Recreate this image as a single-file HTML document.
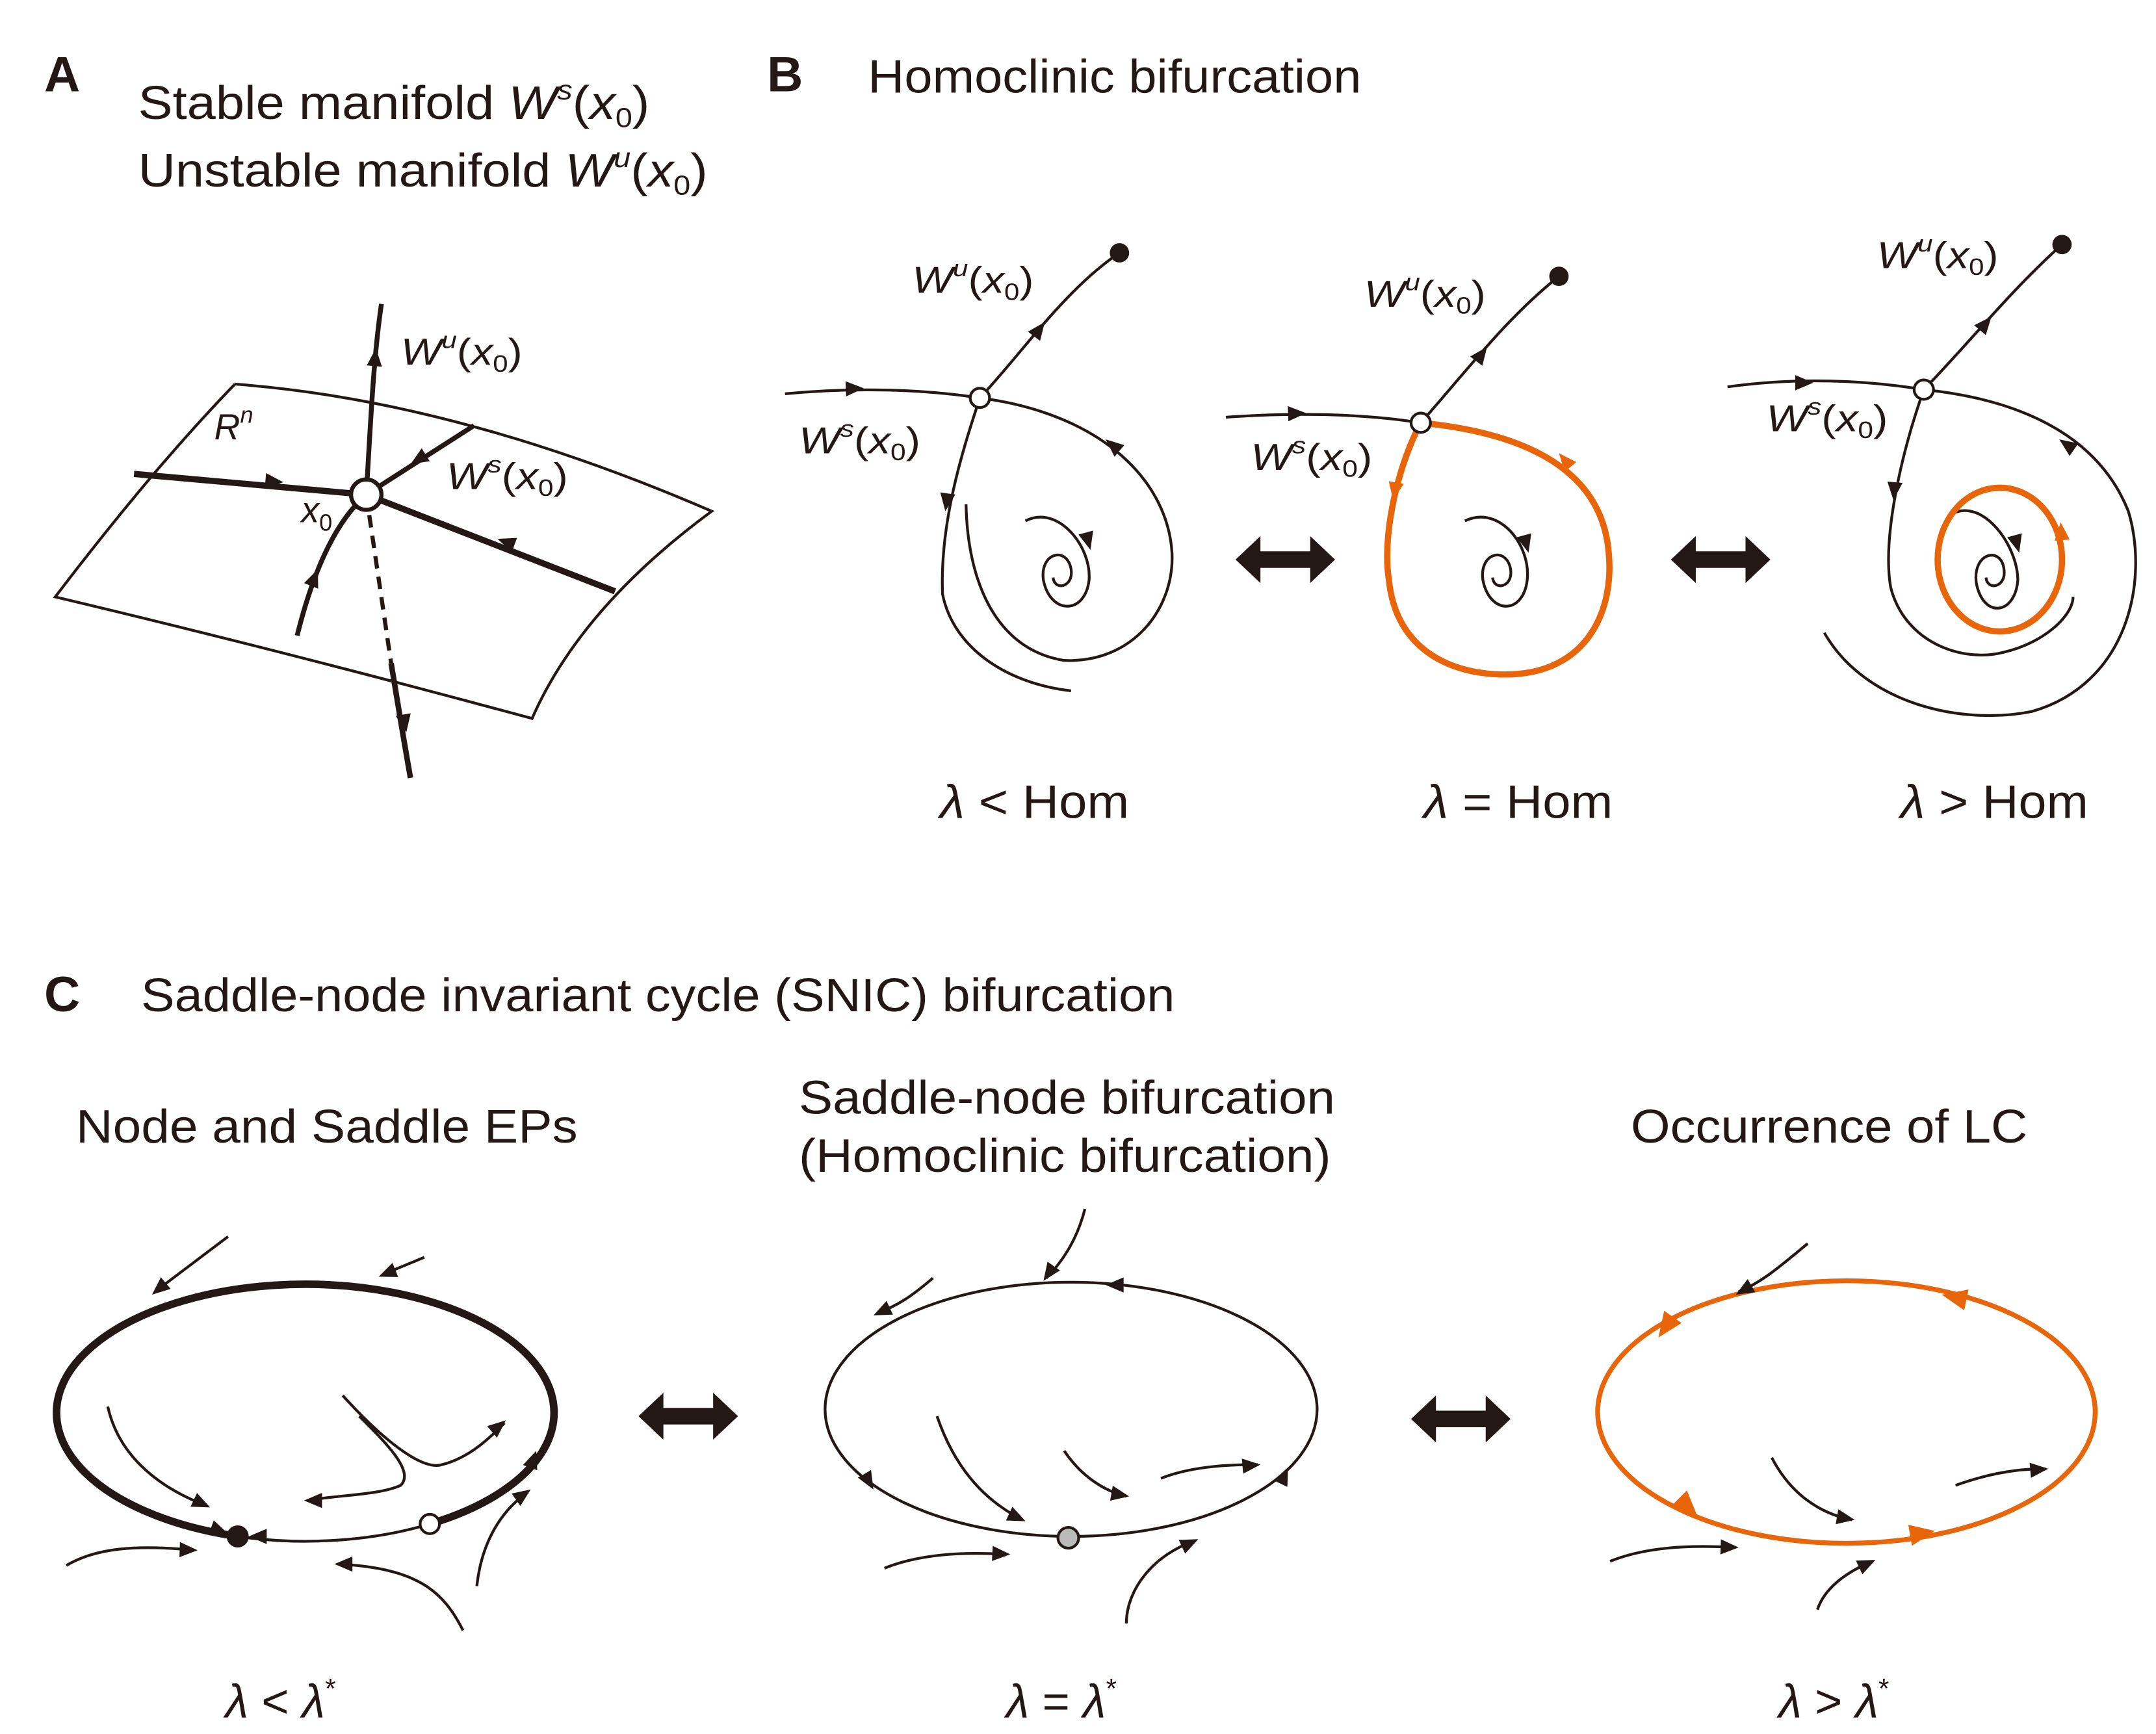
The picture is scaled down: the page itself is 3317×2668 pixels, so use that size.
<!DOCTYPE html>
<html><head><meta charset="utf-8"><style>html,body{margin:0;padding:0;background:#fff}svg{display:block}</style></head>
<body>
<svg width="3317" height="2668" viewBox="0 0 1560 1255" preserveAspectRatio="none" xmlns="http://www.w3.org/2000/svg" font-family="Liberation Sans, Arial, sans-serif">
<defs>
<path id="ah" d="M0,0 L-13,-5.5 L-13,5.5Z"/>
<polygon id="da" points="-36,0 -18,-17 -18,-6 18,-6 18,-17 36,0 18,17 18,6 -18,6 -18,17" fill="#231815"/>
</defs>
<g fill="#231815">
<text x="32" y="66" font-size="36" font-weight="bold">A</text>
<text x="100" y="86" font-size="34" textLength="370" lengthAdjust="spacingAndGlyphs">Stable manifold <tspan font-style="italic">W</tspan><tspan font-size="20" dy="-14" font-style="italic">s</tspan><tspan dy="14">(</tspan><tspan font-style="italic">x</tspan><tspan font-size="20" dy="6">0</tspan><tspan dy="-6">)</tspan></text>
<text x="100" y="135" font-size="34" textLength="412" lengthAdjust="spacingAndGlyphs">Unstable manifold <tspan font-style="italic">W</tspan><tspan font-size="20" dy="-14" font-style="italic">u</tspan><tspan dy="14">(</tspan><tspan font-style="italic">x</tspan><tspan font-size="20" dy="6">0</tspan><tspan dy="-6">)</tspan></text>
<text x="555" y="66" font-size="36" font-weight="bold">B</text>
<text x="628" y="67" font-size="34" textLength="357" lengthAdjust="spacingAndGlyphs">Homoclinic bifurcation</text>
<text x="32" y="732" font-size="36" font-weight="bold">C</text>
<text x="102" y="732" font-size="34" textLength="748" lengthAdjust="spacingAndGlyphs">Saddle-node invariant cycle (SNIC) bifurcation</text>
<text x="55" y="827" font-size="34" textLength="363" lengthAdjust="spacingAndGlyphs">Node and Saddle EPs</text>
<text x="578" y="806" font-size="34" textLength="388" lengthAdjust="spacingAndGlyphs">Saddle-node bifurcation</text>
<text x="578" y="848" font-size="34" textLength="385" lengthAdjust="spacingAndGlyphs">(Homoclinic bifurcation)</text>
<text x="1180" y="827" font-size="34" textLength="287" lengthAdjust="spacingAndGlyphs">Occurrence of LC</text>
<text x="680" y="592" font-size="34" textLength="137" lengthAdjust="spacingAndGlyphs"><tspan font-style="italic">λ</tspan> &lt; Hom</text>
<text x="1030" y="592" font-size="34" textLength="137" lengthAdjust="spacingAndGlyphs"><tspan font-style="italic">λ</tspan> = Hom</text>
<text x="1375" y="592" font-size="34" textLength="136" lengthAdjust="spacingAndGlyphs"><tspan font-style="italic">λ</tspan> &gt; Hom</text>
<text x="163" y="1243" font-size="34"><tspan font-style="italic">λ</tspan> &lt; <tspan font-style="italic">λ</tspan><tspan font-size="20" dy="-14">*</tspan></text>
<text x="728" y="1243" font-size="34"><tspan font-style="italic">λ</tspan> = <tspan font-style="italic">λ</tspan><tspan font-size="20" dy="-14">*</tspan></text>
<text x="1287" y="1243" font-size="34"><tspan font-style="italic">λ</tspan> &gt; <tspan font-style="italic">λ</tspan><tspan font-size="20" dy="-14">*</tspan></text>
<!-- A labels -->
<text x="155" y="318" font-size="26" font-style="italic">R<tspan font-size="17" dy="-12">n</tspan></text>
<text x="218" y="378" font-size="26" font-style="italic">x<tspan font-size="17" dy="6" font-style="normal">0</tspan></text>
<text x="290" y="264" font-size="27" textLength="88" lengthAdjust="spacingAndGlyphs"><tspan font-style="italic">W</tspan><tspan font-size="17" dy="-12" font-style="italic">u</tspan><tspan dy="12">(</tspan><tspan font-style="italic">x</tspan><tspan font-size="17" dy="5">0</tspan><tspan dy="-5">)</tspan></text>
<text x="323" y="354" font-size="27" textLength="88" lengthAdjust="spacingAndGlyphs"><tspan font-style="italic">W</tspan><tspan font-size="17" dy="-12" font-style="italic">s</tspan><tspan dy="12">(</tspan><tspan font-style="italic">x</tspan><tspan font-size="17" dy="5">0</tspan><tspan dy="-5">)</tspan></text>
<!-- B labels -->
<text x="660" y="212" font-size="27" textLength="88" lengthAdjust="spacingAndGlyphs"><tspan font-style="italic">W</tspan><tspan font-size="17" dy="-12" font-style="italic">u</tspan><tspan dy="12">(</tspan><tspan font-style="italic">x</tspan><tspan font-size="17" dy="5">0</tspan><tspan dy="-5">)</tspan></text>
<text x="578" y="328" font-size="27" textLength="88" lengthAdjust="spacingAndGlyphs"><tspan font-style="italic">W</tspan><tspan font-size="17" dy="-12" font-style="italic">s</tspan><tspan dy="12">(</tspan><tspan font-style="italic">x</tspan><tspan font-size="17" dy="5">0</tspan><tspan dy="-5">)</tspan></text>
<text x="987" y="222" font-size="27" textLength="88" lengthAdjust="spacingAndGlyphs"><tspan font-style="italic">W</tspan><tspan font-size="17" dy="-12" font-style="italic">u</tspan><tspan dy="12">(</tspan><tspan font-style="italic">x</tspan><tspan font-size="17" dy="5">0</tspan><tspan dy="-5">)</tspan></text>
<text x="905" y="340" font-size="27" textLength="88" lengthAdjust="spacingAndGlyphs"><tspan font-style="italic">W</tspan><tspan font-size="17" dy="-12" font-style="italic">s</tspan><tspan dy="12">(</tspan><tspan font-style="italic">x</tspan><tspan font-size="17" dy="5">0</tspan><tspan dy="-5">)</tspan></text>
<text x="1358" y="194" font-size="27" textLength="88" lengthAdjust="spacingAndGlyphs"><tspan font-style="italic">W</tspan><tspan font-size="17" dy="-12" font-style="italic">u</tspan><tspan dy="12">(</tspan><tspan font-style="italic">x</tspan><tspan font-size="17" dy="5">0</tspan><tspan dy="-5">)</tspan></text>
<text x="1278" y="312" font-size="27" textLength="88" lengthAdjust="spacingAndGlyphs"><tspan font-style="italic">W</tspan><tspan font-size="17" dy="-12" font-style="italic">s</tspan><tspan dy="12">(</tspan><tspan font-style="italic">x</tspan><tspan font-size="17" dy="5">0</tspan><tspan dy="-5">)</tspan></text>
</g>

<g fill="none" stroke="#231815" stroke-width="2">
<!-- Panel A surface -->
<path d="M170,278 Q330,290 515,370 Q420,440 385,520 Q200,470 40,432 Q110,340 170,278"/>
<path d="M97,343 L265,358" stroke-width="4.5"/>
<path d="M265,358 L445,428" stroke-width="4.5"/>
<path d="M215,460 C225,420 240,380 265,358" stroke-width="3.5"/>
<path d="M265,358 C268,310 270,260 276,220" stroke-width="3.5"/>
<path d="M265,358 L343,308" stroke-width="3.5"/>
<path d="M265,358 L283,480" stroke-width="3" stroke-dasharray="9,6"/>
<path d="M283,480 C288,510 292,535 297,563" stroke-width="4"/>

<!-- B sub1 -->
<path d="M568,285 C620,280 670,282 709,288"/>
<path d="M709,288 C740,255 770,210 810,183"/>
<path d="M699,365 C700,420 720,470 770,478 C820,480 850,440 848,400 C845,350 800,300 709,288"/>
<path d="M709,288 C695,330 680,380 682,430 C690,470 730,495 775,500"/>
<path d="M742,377 C765,365 790,395 788,420 C785,445 760,445 755,420 C752,400 772,395 775,412 C777,425 763,428 762,418"/>
<!-- B sub2 -->
<path d="M887,302 C940,298 990,300 1028,306"/>
<path d="M1028,306 C1060,270 1090,230 1128,200"/>
<path d="M1060,377 C1085,365 1108,395 1105,420 C1102,445 1078,445 1073,420 C1070,400 1090,395 1093,412 C1095,425 1081,428 1080,418"/>
<!-- B sub3 -->
<path d="M1250,280 C1300,273 1350,275 1392,282"/>
<path d="M1392,282 C1425,248 1455,210 1492,177"/>
<path d="M1320,458 C1350,510 1420,525 1470,515 C1540,495 1555,420 1540,370 C1520,320 1470,290 1392,282"/>
<path d="M1392,282 C1375,330 1362,390 1368,425 C1378,465 1420,480 1450,472 C1480,465 1500,445 1500,432"/>
<path d="M1412,372 C1435,360 1460,395 1460,420 C1458,445 1435,448 1430,422 C1427,400 1448,395 1450,412 C1452,425 1438,428 1437,418"/>

<!-- C left -->
<path d="M172,1112 A180,93 0 1 1 311,1103" stroke-width="5.5"/>
<path d="M172,1112 A180,93 0 0 0 311,1103" stroke-width="2"/>
<path d="M165,895 C145,910 125,925 112,935"/>
<path d="M307,910 L278,922"/>
<path d="M78,1018 C85,1050 110,1075 150,1090"/>
<path d="M248,1010 C275,1040 305,1065 320,1060 C340,1055 355,1040 365,1030"/>
<path d="M260,1025 C280,1045 300,1065 290,1075 C275,1082 245,1082 222,1086"/>
<path d="M48,1133 C70,1120 100,1118 140,1122"/>
<path d="M335,1180 C320,1150 300,1135 245,1132"/>
<path d="M345,1148 C348,1120 360,1095 382,1080"/>
<!-- C middle -->
<ellipse cx="775" cy="1020" rx="178" ry="92"/>
<path d="M785,875 C780,895 770,912 757,925"/>
<path d="M675,925 C660,938 648,946 635,950"/>
<path d="M678,1025 C690,1060 710,1085 740,1100"/>
<path d="M770,1050 C780,1065 795,1078 815,1083"/>
<path d="M840,1070 C860,1062 885,1060 910,1060"/>
<path d="M640,1135 C665,1125 695,1123 728,1125"/>
<path d="M815,1175 C815,1150 835,1125 865,1115"/>
<!-- C right -->
<ellipse cx="1336" cy="1022" rx="180" ry="95" stroke="#e8650a" stroke-width="3.5"/>
<path d="M1308,900 C1290,915 1275,928 1258,935"/>
<path d="M1282,1055 C1295,1080 1315,1095 1340,1100"/>
<path d="M1415,1075 C1435,1068 1455,1063 1480,1063"/>
<path d="M1165,1130 C1190,1120 1220,1118 1255,1120"/>
<path d="M1315,1165 C1320,1150 1335,1138 1355,1130"/>
</g>
<!-- orange B -->
<g fill="none" stroke="#e8650a" stroke-width="4.5">
<path d="M1028,306 C1010,340 1000,390 1005,420 C1010,470 1050,490 1095,488 C1150,485 1168,440 1164,400 C1160,350 1120,315 1028,306"/>
<ellipse cx="1447" cy="405" rx="45" ry="52"/>
</g>

<!-- arrowheads -->
<g fill="#231815">
<use href="#ah" transform="translate(205,349) rotate(5)"/>
<use href="#ah" transform="translate(360,390) rotate(200)"/>
<use href="#ah" transform="translate(230,412) rotate(-68)"/>
<use href="#ah" transform="translate(272,252) rotate(-85)"/>
<use href="#ah" transform="translate(297,336) rotate(148)"/>
<use href="#ah" transform="translate(294,530) rotate(80)"/>
<use href="#ah" transform="translate(625,281) rotate(-2)"/>
<use href="#ah" transform="translate(756,233) rotate(-53)"/>
<use href="#ah" transform="translate(800,318) rotate(220)"/>
<use href="#ah" transform="translate(684,370) rotate(98)"/>
<use href="#ah" transform="translate(789,398) rotate(75)"/>
<use href="#ah" transform="translate(945,299) rotate(-2)"/>
<use href="#ah" transform="translate(1076,251) rotate(-53)"/>
<use href="#ah" transform="translate(1106,400) rotate(75)"/>
<use href="#ah" transform="translate(1312,277) rotate(0)"/>
<use href="#ah" transform="translate(1441,229) rotate(-50)"/>
<use href="#ah" transform="translate(1490,318) rotate(215)"/>
<use href="#ah" transform="translate(1370,362) rotate(95)"/>
<use href="#ah" transform="translate(1461,400) rotate(75)"/>
<!-- C left -->
<use href="#ah" transform="translate(110,937) rotate(140)"/>
<use href="#ah" transform="translate(274,924) rotate(158)"/>
<use href="#ah" transform="translate(152,1091) rotate(25)"/>
<use href="#ah" transform="translate(366,1028) rotate(-40)"/>
<use href="#ah" transform="translate(220,1086) rotate(180)"/>
<use href="#ah" transform="translate(143,1122) rotate(2)"/>
<use href="#ah" transform="translate(242,1132) rotate(180)"/>
<use href="#ah" transform="translate(384,1078) rotate(-35)"/>
<use href="#ah" transform="translate(165,1110) rotate(20)"/>
<use href="#ah" transform="translate(180,1112) rotate(180)"/>
<use href="#ah" transform="translate(388,1050) rotate(-70)"/>
<!-- C middle -->
<use href="#ah" transform="translate(755,927) rotate(125)"/>
<use href="#ah" transform="translate(632,952) rotate(155)"/>
<use href="#ah" transform="translate(742,1101) rotate(25)"/>
<use href="#ah" transform="translate(817,1083) rotate(10)"/>
<use href="#ah" transform="translate(912,1060) rotate(-5)"/>
<use href="#ah" transform="translate(731,1125) rotate(3)"/>
<use href="#ah" transform="translate(867,1114) rotate(-25)"/>
<use href="#ah" transform="translate(800,930) rotate(180)"/>
<use href="#ah" transform="translate(632,1078) rotate(60)"/>
<use href="#ah" transform="translate(932,1062) rotate(-65)"/>
<!-- C right -->
<use href="#ah" transform="translate(1256,937) rotate(150)"/>
<use href="#ah" transform="translate(1342,1100) rotate(10)"/>
<use href="#ah" transform="translate(1482,1063) rotate(-5)"/>
<use href="#ah" transform="translate(1258,1120) rotate(2)"/>
<use href="#ah" transform="translate(1357,1129) rotate(-25)"/>
</g>
<g fill="#e8650a">
<use href="#ah" transform="translate(1008,362) rotate(100)"/>
<use href="#ah" transform="translate(1128,328) rotate(230)"/>
<use href="#ah" transform="translate(1491,378) rotate(-95)"/>
<use href="#ah" transform="translate(1405,937) rotate(192) scale(1.4)"/>
<use href="#ah" transform="translate(1200,968) rotate(125) scale(1.4)"/>
<use href="#ah" transform="translate(1228,1097) rotate(45) scale(1.4)"/>
<use href="#ah" transform="translate(1400,1108) rotate(-10) scale(1.4)"/>
</g>
<!-- points -->
<circle cx="265" cy="358" r="11" fill="#fff" stroke="#231815" stroke-width="3"/>
<circle cx="709" cy="288" r="7" fill="#fff" stroke="#231815" stroke-width="2"/>
<circle cx="810" cy="183" r="7" fill="#231815"/>
<circle cx="1028" cy="306" r="7" fill="#fff" stroke="#231815" stroke-width="2"/>
<circle cx="1128" cy="200" r="7" fill="#231815"/>
<circle cx="1392" cy="282" r="7" fill="#fff" stroke="#231815" stroke-width="2"/>
<circle cx="1492" cy="177" r="7" fill="#231815"/>
<circle cx="172" cy="1112" r="8" fill="#231815"/>
<circle cx="311" cy="1103" r="7" fill="#fff" stroke="#231815" stroke-width="2"/>
<circle cx="773" cy="1113" r="7.5" fill="#bbb" stroke="#231815" stroke-width="2"/>
<!-- double arrows -->
<use href="#da" transform="translate(930,405)"/>
<use href="#da" transform="translate(1245,405)"/>
<use href="#da" transform="translate(498,1025)"/>
<use href="#da" transform="translate(1057,1027)"/>
</svg>
</body></html>
